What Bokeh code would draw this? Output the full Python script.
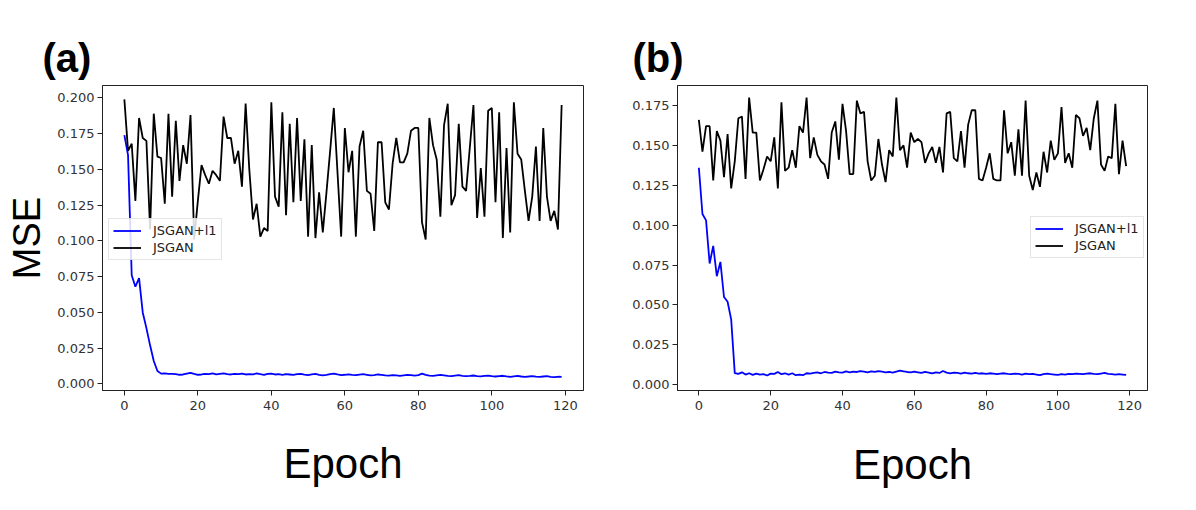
from bokeh.plotting import figure
from bokeh.layouts import row
from bokeh.models import Range1d, FixedTicker, PrintfTickFormatter, Legend, LegendItem
from bokeh.embed import file_html
from bokeh.resources import INLINE

epochs = list(range(120))

jsgan_a = [0.199, 0.163, 0.168, 0.128, 0.186, 0.172, 0.170, 0.108, 0.189, 0.159,
           0.158, 0.126, 0.189, 0.131, 0.184, 0.142, 0.167, 0.154, 0.188, 0.101,
           0.128, 0.153, 0.146, 0.140, 0.149, 0.146, 0.142, 0.187, 0.172, 0.172,
           0.154, 0.163, 0.138, 0.196, 0.150, 0.115, 0.126, 0.103, 0.109, 0.107,
           0.197, 0.131, 0.124, 0.190, 0.118, 0.182, 0.127, 0.186, 0.128, 0.171,
           0.103, 0.167, 0.102, 0.134, 0.106, 0.134, 0.163, 0.193, 0.148, 0.103,
           0.179, 0.148, 0.163, 0.103, 0.166, 0.177, 0.135, 0.133, 0.107, 0.169,
           0.169, 0.127, 0.122, 0.154, 0.172, 0.155, 0.155, 0.161, 0.177, 0.179,
           0.179, 0.113, 0.101, 0.186, 0.167, 0.157, 0.117, 0.181, 0.196, 0.125,
           0.132, 0.182, 0.138, 0.135, 0.165, 0.195, 0.116, 0.151, 0.117, 0.191,
           0.193, 0.127, 0.190, 0.102, 0.165, 0.106, 0.197, 0.161, 0.157, 0.135,
           0.114, 0.131, 0.166, 0.114, 0.179, 0.131, 0.114, 0.121, 0.108, 0.195]

jsgan_l1_a = [0.174, 0.160, 0.076, 0.068, 0.074, 0.050, 0.039, 0.027, 0.016, 0.009,
              0.0072, 0.0074, 0.0070, 0.0070, 0.0068, 0.0064, 0.0066, 0.0072, 0.0078, 0.0070,
              0.0064, 0.0066, 0.0070, 0.0069, 0.0073, 0.0066, 0.0070, 0.0074, 0.0068, 0.0066,
              0.0070, 0.0068, 0.0072, 0.0066, 0.0069, 0.0067, 0.0073, 0.0068, 0.0064, 0.0070,
              0.0072, 0.0066, 0.0068, 0.0064, 0.0069, 0.0066, 0.0063, 0.0068, 0.0070, 0.0065,
              0.0062, 0.0066, 0.0070, 0.0064, 0.0060, 0.0063, 0.0068, 0.0072, 0.0066, 0.0062,
              0.0064, 0.0067, 0.0063, 0.0061, 0.0065, 0.0068, 0.0064, 0.0060, 0.0062, 0.0066,
              0.0063, 0.0060, 0.0058, 0.0062, 0.0060, 0.0057, 0.0060, 0.0063, 0.0061, 0.0058,
              0.0062, 0.0072, 0.0064, 0.0058, 0.0056, 0.0060, 0.0064, 0.0060, 0.0056, 0.0055,
              0.0058, 0.0061, 0.0057, 0.0054, 0.0056, 0.0059, 0.0055, 0.0053, 0.0056, 0.0058,
              0.0054, 0.0052, 0.0055, 0.0057, 0.0053, 0.0050, 0.0053, 0.0056, 0.0052, 0.0050,
              0.0052, 0.0055, 0.0051, 0.0049, 0.0052, 0.0054, 0.0050, 0.0048, 0.0050, 0.0049]

jsgan_b = [0.166, 0.146, 0.162, 0.162, 0.128, 0.159, 0.153, 0.130, 0.157, 0.123,
           0.140, 0.167, 0.168, 0.129, 0.180, 0.158, 0.158, 0.128, 0.135, 0.143,
           0.140, 0.155, 0.123, 0.177, 0.134, 0.136, 0.147, 0.136, 0.162, 0.158,
           0.180, 0.142, 0.155, 0.144, 0.140, 0.138, 0.129, 0.158, 0.165, 0.141,
           0.176, 0.159, 0.132, 0.132, 0.178, 0.170, 0.171, 0.140, 0.128, 0.131,
           0.154, 0.138, 0.127, 0.147, 0.143, 0.180, 0.147, 0.150, 0.136, 0.158,
           0.152, 0.154, 0.152, 0.139, 0.145, 0.149, 0.139, 0.149, 0.133, 0.170,
           0.171, 0.142, 0.140, 0.159, 0.136, 0.163, 0.172, 0.172, 0.129, 0.128,
           0.136, 0.145, 0.129, 0.128, 0.128, 0.172, 0.145, 0.152, 0.131, 0.160,
           0.131, 0.178, 0.131, 0.122, 0.133, 0.124, 0.146, 0.133, 0.153, 0.141,
           0.145, 0.174, 0.139, 0.145, 0.136, 0.169, 0.167, 0.156, 0.161, 0.147,
           0.167, 0.178, 0.138, 0.134, 0.143, 0.142, 0.176, 0.132, 0.153, 0.137]

jsgan_l1_b = [0.136, 0.107, 0.103, 0.076, 0.087, 0.068, 0.077, 0.055, 0.052, 0.041,
              0.0073, 0.0068, 0.0078, 0.0064, 0.0072, 0.0062, 0.0070, 0.0064, 0.0066, 0.0058,
              0.0070, 0.0068, 0.0080, 0.0066, 0.0072, 0.0064, 0.0072, 0.0060, 0.0064, 0.0060,
              0.0072, 0.0070, 0.0074, 0.0078, 0.0072, 0.0080, 0.0076, 0.0074, 0.0082, 0.0078,
              0.0076, 0.0084, 0.0078, 0.0082, 0.0080, 0.0086, 0.0082, 0.0078, 0.0084, 0.0080,
              0.0086, 0.0082, 0.0078, 0.0080, 0.0076, 0.0082, 0.0088, 0.0084, 0.0080, 0.0078,
              0.0082, 0.0078, 0.0074, 0.0080, 0.0076, 0.0072, 0.0078, 0.0074, 0.0086, 0.0076,
              0.0072, 0.0076, 0.0074, 0.0070, 0.0076, 0.0072, 0.0070, 0.0074, 0.0070, 0.0072,
              0.0068, 0.0072, 0.0070, 0.0066, 0.0070, 0.0072, 0.0068, 0.0066, 0.0070, 0.0068,
              0.0064, 0.0070, 0.0066, 0.0068, 0.0064, 0.0060, 0.0066, 0.0070, 0.0066, 0.0064,
              0.0062, 0.0066, 0.0064, 0.0068, 0.0066, 0.0070, 0.0068, 0.0066, 0.0070, 0.0072,
              0.0068, 0.0066, 0.0070, 0.0074, 0.0068, 0.0066, 0.0064, 0.0066, 0.0064, 0.0062]

x_ticks = [0, 20, 40, 60, 80, 100, 120]
y_ticks_a = [0.0, 0.025, 0.05, 0.075, 0.1, 0.125, 0.15, 0.175, 0.2]
y_ticks_b = [0.0, 0.025, 0.05, 0.075, 0.1, 0.125, 0.15, 0.175]
series_names = ["JSGAN+l1", "JSGAN"]
panel_labels = ["(a)", "(b)"]

TICK_FONT = "DejaVu Sans"
LABEL_FONT = "Liberation Sans"


def make_panel(width, height, borders, yr, yticks, blue, black, legend_loc,
               panel_label, title_offset, ylabel, xlabel_standoff):
    left, right, top, bottom = borders
    p = figure(width=width, height=height, output_backend="svg", toolbar_location=None,
               x_range=Range1d(-5.95, 124.95), y_range=Range1d(*yr),
               min_border_left=left, min_border_right=right,
               min_border_top=top, min_border_bottom=bottom,
               title=panel_label)
    p.background_fill_color = "white"
    p.border_fill_color = "white"
    p.outline_line_color = "#222222"
    p.outline_line_width = 1
    p.xgrid.visible = False
    p.ygrid.visible = False

    p.title.align = "left"
    p.title.offset = title_offset
    p.title.standoff = 12
    p.title.text_font = LABEL_FONT
    p.title.text_font_style = "bold"
    p.title.text_font_size = "40px"
    p.title.text_color = "black"

    p.xaxis.ticker = FixedTicker(ticks=x_ticks)
    p.yaxis.ticker = FixedTicker(ticks=yticks)
    p.yaxis.formatter = PrintfTickFormatter(format="%.3f")
    for ax in (p.xaxis, p.yaxis):
        ax.axis_line_color = "#222222"
        ax.major_tick_line_color = "#222222"
        ax.major_tick_out = 5
        ax.major_tick_in = 0
        ax.minor_tick_line_color = None
        ax.major_label_text_font = TICK_FONT
        ax.major_label_text_font_size = "13px"
        ax.major_label_text_color = "#333333"
        ax.axis_label_text_font = LABEL_FONT
        ax.axis_label_text_font_style = "normal"
        ax.axis_label_text_color = "black"
    p.xaxis.major_label_standoff = 5
    p.yaxis.major_label_standoff = 3

    p.xaxis.axis_label = "Epoch"
    p.xaxis.axis_label_text_font_size = "42px"
    p.xaxis.axis_label_standoff = xlabel_standoff
    if ylabel:
        p.yaxis.axis_label = ylabel
        p.yaxis.axis_label_text_font_size = "38px"
        p.yaxis.axis_label_standoff = 6

    r_blue = p.line(epochs, blue, line_color="#0000ff", line_width=1.8)
    r_black = p.line(epochs, black, line_color="black", line_width=1.8)

    legend = Legend(items=[LegendItem(label=series_names[0], renderers=[r_blue]),
                           LegendItem(label=series_names[1], renderers=[r_black])],
                    location=legend_loc)
    legend.label_text_font = TICK_FONT
    legend.label_text_font_size = "13px"
    legend.label_text_color = "#222222"
    legend.glyph_width = 28
    legend.glyph_height = 15
    legend.label_height = 15
    legend.label_standoff = 12
    legend.spacing = 2
    legend.padding = 4
    legend.margin = 0
    legend.border_line_color = "#cccccc"
    legend.border_line_width = 1
    legend.background_fill_color = "white"
    legend.background_fill_alpha = 0.85
    p.add_layout(legend)
    return p


pa = make_panel(600, 500, (102, 17, 85, 105), (-0.0046, 0.2087), y_ticks_a,
                jsgan_l1_a, jsgan_a, (6, 130), panel_labels[0], -60, "MSE", 27)
pb = make_panel(580, 500, (77, 33, 84, 110), (-0.0036, 0.1875), y_ticks_b,
                jsgan_l1_b, jsgan_b, (353, 132), panel_labels[1], -45, None, 28)

layout = row(pa, pb)
open("out.html", "w").write(file_html(layout, INLINE))
